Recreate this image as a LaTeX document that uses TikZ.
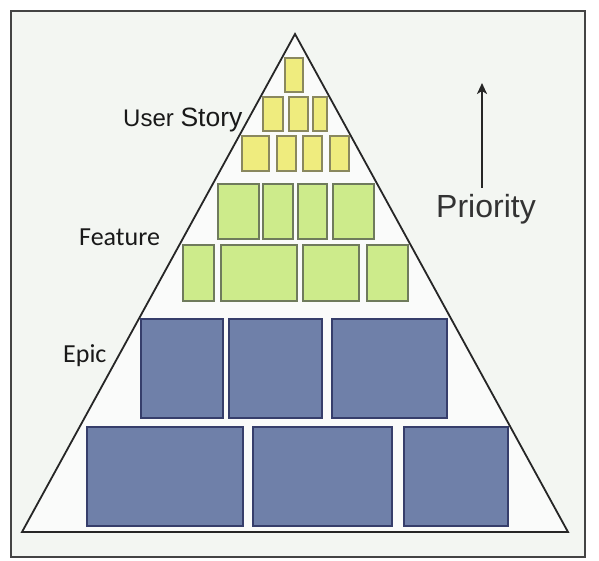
\documentclass[tikz,border=0pt]{standalone}
\usepackage{fontspec}
\setmainfont{Liberation Sans}
\newfontfamily\calib{Carlito}
\usetikzlibrary{fit,arrows.meta}
\definecolor{bgin}{HTML}{F3F6F2}
\definecolor{frameC}{HTML}{444444}
\definecolor{epicF}{HTML}{6F80A9}
\definecolor{epicD}{HTML}{363E6B}
\definecolor{featF}{HTML}{CDEB8B}
\definecolor{featD}{HTML}{6F7B5C}
\definecolor{userF}{HTML}{EFEC7E}
\definecolor{userD}{HTML}{8A885E}
\tikzset{
  epicbox/.style={draw=epicD, fill=epicF, line width=1.4pt, inner sep=0pt, rectangle},
  featbox/.style={draw=featD, fill=featF, line width=2pt, inner sep=0pt, rectangle},
  userbox/.style={draw=userD, fill=userF, line width=2.4pt, inner sep=0pt, rectangle},
  lbl/.style={anchor=base west, inner sep=0pt, text=black!90},
}
\begin{document}
\begin{tikzpicture}[x=1pt,y=-1pt]
\useasboundingbox (0,0) rectangle (599,561);
\fill[white] (0,0) rectangle (599,561);
\draw[frameC, fill=bgin, line width=1.4pt] (11,11) rectangle (585,557);
% pyramid
\draw[black!85, line width=1.8pt, line join=miter, fill=white!60!bgin] (295,34) -- (568,532) -- (22,532) -- cycle;
% epics
\node[epicbox, fit={(141,319) (223,418)}] (e1) {};
\node[epicbox, fit={(229,319) (322,418)}] (e2) {};
\node[epicbox, fit={(332,319) (447,418)}] (e3) {};
\node[epicbox, fit={(87,427) (243,526)}] (e4) {};
\node[epicbox, fit={(253,427) (392,526)}] (e5) {};
\node[epicbox, fit={(404,427) (508,526)}] (e6) {};
% features
\node[featbox, fit={(218,184) (259,239)}] (f1) {};
\node[featbox, fit={(263,184) (293,239)}] (f2) {};
\node[featbox, fit={(298,184) (327,239)}] (f3) {};
\node[featbox, fit={(333,184) (374,239)}] (f4) {};
\node[featbox, fit={(183,245) (214,301)}] (f5) {};
\node[featbox, fit={(221,245) (297,301)}] (f6) {};
\node[featbox, fit={(303,245) (359,301)}] (f7) {};
\node[featbox, fit={(367,245) (408,301)}] (f8) {};
% user stories
\node[userbox, fit={(285,58) (303,92)}] (u1) {};
\node[userbox, fit={(263,97) (283,131)}] (u2) {};
\node[userbox, fit={(289,97) (308,131)}] (u3) {};
\node[userbox, fit={(313,97) (327,131)}] (u4) {};
\node[userbox, fit={(242,136) (269,171)}] (u5) {};
\node[userbox, fit={(277,136) (296,171)}] (u6) {};
\node[userbox, fit={(303,136) (322,171)}] (u7) {};
\node[userbox, fit={(330,136) (349,171)}] (u8) {};
% labels
\node[lbl] (lus) at (123,127) {\fontsize{24}{28}\selectfont User \fontsize{26.5}{30}\selectfont Story};
\node[lbl] (lft) at (79,245) {\calib\fontsize{26}{30}\selectfont Feature};
\node[lbl] (lep) at (63,362) {\calib\fontsize{26}{30}\selectfont Epic};
\node[lbl, text=black!80] (pri) at (436,218) {\fontsize{32}{36}\selectfont Priority};
\coordinate (ptop) at (482,83);
\draw[black!85, line width=2.4pt, -{Stealth[length=11pt,width=10pt,inset=3pt]}] (482,188) -- (ptop);
\end{tikzpicture}
\end{document}
